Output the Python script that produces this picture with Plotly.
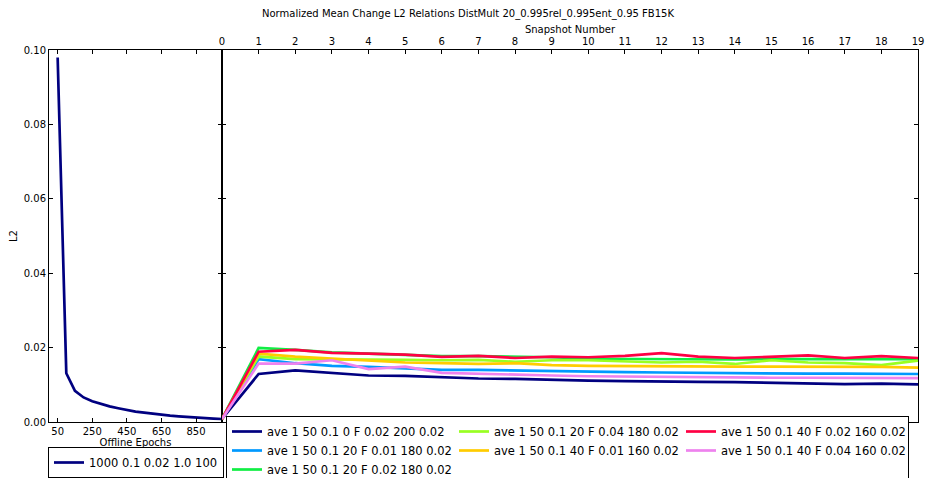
import plotly.graph_objects as go

title_text = "Normalized Mean Change L2 Relations DistMult 20_0.995rel_0.995ent_0.95 FB15K"

# Left panel: offline training
offline_epochs = [50, 100, 150, 200, 250, 300, 350, 400, 450, 500, 550, 600, 650, 700, 750, 800, 850, 900, 950, 1000]
offline_l2 = [0.0980, 0.0131, 0.0084, 0.0066, 0.0056, 0.0048, 0.0042, 0.0037, 0.0032, 0.0028, 0.0025, 0.0022,
              0.0019, 0.0017, 0.0015, 0.0013, 0.0012, 0.0010, 0.0009, 0.0008]
offline_name = "1000 0.1 0.02 1.0 100"
offline_ticks = [50, 250, 450, 650, 850]

# Right panel: snapshots
snapshots = list(range(20))
series_names = [
    "ave 1 50 0.1 0 F 0.02 200 0.02",
    "ave 1 50 0.1 20 F 0.01 180 0.02",
    "ave 1 50 0.1 20 F 0.02 180 0.02",
    "ave 1 50 0.1 20 F 0.04 180 0.02",
    "ave 1 50 0.1 40 F 0.01 160 0.02",
    "ave 1 50 0.1 40 F 0.02 160 0.02",
    "ave 1 50 0.1 40 F 0.04 160 0.02",
]
series_colors = ["#000080", "#0099ff", "#11ee44", "#99ff22", "#ffcc00", "#ff0044", "#ee82ee"]
navy_vals = [0.0008, 0.0129, 0.0139, 0.0133, 0.0125, 0.0124, 0.0120, 0.0117, 0.0116, 0.0113,
             0.0111, 0.0110, 0.0108, 0.0108, 0.0107, 0.0105, 0.0104, 0.0102, 0.0103, 0.0101]
blue_vals = [0.0008, 0.0169, 0.0158, 0.0151, 0.0148, 0.0144, 0.0140, 0.0140, 0.0138, 0.0137,
             0.0135, 0.0134, 0.0133, 0.0132, 0.0131, 0.0131, 0.0130, 0.0130, 0.0130, 0.0129]
green_vals = [0.0008, 0.0199, 0.0194, 0.0187, 0.0184, 0.0181, 0.0177, 0.0177, 0.0176, 0.0174,
              0.0170, 0.0169, 0.0169, 0.0168, 0.0168, 0.0169, 0.0169, 0.0168, 0.0169, 0.0169]
lime_vals = [0.0008, 0.0176, 0.0169, 0.0169, 0.0169, 0.0167, 0.0166, 0.0167, 0.0162, 0.0166,
             0.0166, 0.0162, 0.0160, 0.0162, 0.0156, 0.0166, 0.0160, 0.0158, 0.0153, 0.0165]
gold_vals = [0.0008, 0.0184, 0.0176, 0.0171, 0.0167, 0.0160, 0.0158, 0.0156, 0.0158, 0.0153,
             0.0151, 0.0150, 0.0150, 0.0150, 0.0149, 0.0149, 0.0149, 0.0148, 0.0148, 0.0146]
red_vals = [0.0008, 0.0189, 0.0194, 0.0186, 0.0184, 0.0181, 0.0175, 0.0178, 0.0172, 0.0176,
            0.0174, 0.0178, 0.0185, 0.0176, 0.0172, 0.0175, 0.0179, 0.0172, 0.0177, 0.0172]
violet_vals = [0.0008, 0.0157, 0.0157, 0.0166, 0.0142, 0.0149, 0.0132, 0.0129, 0.0128, 0.0125,
               0.0123, 0.0122, 0.0121, 0.0121, 0.0120, 0.0119, 0.0119, 0.0118, 0.0118, 0.0118]
series_values = [navy_vals, blue_vals, green_vals, lime_vals, gold_vals, red_vals, violet_vals]
# legend order (row-major layout of a column-major legend)
legend_ranks = [1, 4, 7, 2, 5, 3, 6]

FONT = "DejaVu Sans"
W, H = 926, 478
ml, mr, mt, mb = 49, 8, 50, 56
pw = W - ml - mr
ph = H - mt - mb
split = (222 - ml) / pw

fig = go.Figure()

fig.add_trace(go.Scatter(
    x=offline_epochs, y=offline_l2, mode="lines", name=offline_name,
    line=dict(color="#000080", width=2.7), xaxis="x", yaxis="y", legend="legend",
))

for name, color, vals, rank in zip(series_names, series_colors, series_values, legend_ranks):
    fig.add_trace(go.Scatter(
        x=snapshots, y=vals, mode="lines", name=name,
        line=dict(color=color, width=2.7), xaxis="x2", yaxis="y2",
        legend="legend2", legendrank=rank,
    ))

axis_common = dict(
    showline=True, linecolor="black", linewidth=1, mirror="ticks",
    ticks="inside", ticklen=4, tickwidth=1, tickcolor="black",
    showgrid=False, zeroline=False,
    tickfont=dict(family=FONT, size=10, color="black"),
)

fig.update_layout(
    width=W, height=H,
    margin=dict(l=ml, r=mr, t=mt, b=mb, autoexpand=False),
    paper_bgcolor="white", plot_bgcolor="white",
    font=dict(family=FONT, size=10, color="black"),
    title=dict(text=title_text, x=468 / W, xref="container", xanchor="center",
               y=1 - 13 / H, yref="container", yanchor="middle",
               font=dict(family=FONT, size=10, color="black")),
    xaxis=dict(domain=[0, split], range=[0, 1000], tickvals=offline_ticks,
               title=dict(text="Offline Epochs", font=dict(family=FONT, size=10), standoff=2),
               anchor="y", **axis_common),
    yaxis=dict(domain=[0, 1], range=[0, 0.1], tickvals=[0, 0.02, 0.04, 0.06, 0.08, 0.1],
               tickformat=".2f", anchor="x",
               title=dict(text="L2", font=dict(family=FONT, size=10), standoff=4),
               **axis_common),
    xaxis2=dict(domain=[split, 1], range=[0, 19], tickvals=snapshots, side="top",
                title=dict(text="Snapshot Number", font=dict(family=FONT, size=10), standoff=0),
                anchor="y2", **axis_common),
    yaxis2=dict(domain=[0, 1], range=[0, 0.1], tickvals=[0, 0.02, 0.04, 0.06, 0.08, 0.1],
                showticklabels=False, anchor="x2", **axis_common),
    legend=dict(x=(48 - ml) / pw, y=(422 - 447) / ph, xanchor="left", yanchor="top",
                orientation="h", bordercolor="black", borderwidth=1, bgcolor="white",
                font=dict(family=FONT, size=11.5, color="black"), itemwidth=30),
    legend2=dict(x=(226 - ml) / pw, y=(422 - 416) / ph, xanchor="left", yanchor="top",
                 orientation="h", bordercolor="black", borderwidth=1, bgcolor="white",
                 font=dict(family=FONT, size=11.5, color="black"), itemwidth=30,
                 entrywidth=182, entrywidthmode="pixels", traceorder="normal"),
    showlegend=True,
)

fig.write_html(
    "out.html",
    config={"displayModeBar": False},
    post_script="document.body.style.margin='0';document.body.style.padding='0';",
)
